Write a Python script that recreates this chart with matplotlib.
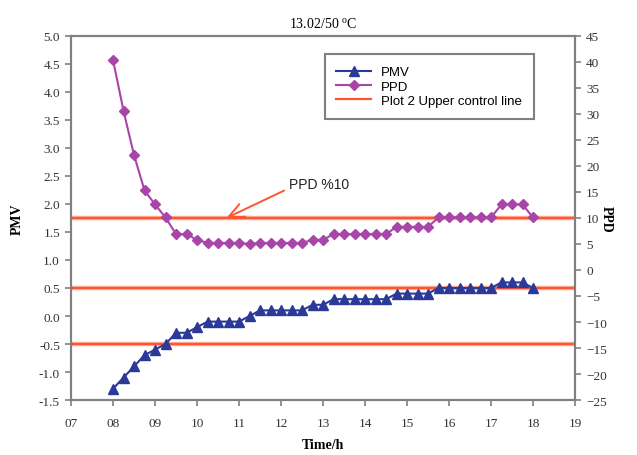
import numpy as np
import matplotlib
matplotlib.use("Agg")
from matplotlib import pyplot as plt

# time of day in hours, one reading every quarter hour
hours = np.arange(8.0, 18.01, 0.25)

pmv = [-1.3, -1.1, -0.9, -0.7, -0.6, -0.5, -0.3, -0.3, -0.2, -0.1,
       -0.1, -0.1, -0.1, 0.0, 0.1, 0.1, 0.1, 0.1, 0.1, 0.2,
       0.2, 0.3, 0.3, 0.3, 0.3, 0.3, 0.3, 0.4, 0.4, 0.4,
       0.4, 0.5, 0.5, 0.5, 0.5, 0.5, 0.5, 0.6, 0.6, 0.6, 0.5]

ppd = [40.4, 30.6, 22.1, 15.3, 12.6, 10.1, 6.9, 6.9, 5.8, 5.2,
       5.2, 5.2, 5.2, 5.0, 5.2, 5.2, 5.2, 5.2, 5.2, 5.8,
       5.8, 6.9, 6.9, 6.9, 6.9, 6.9, 6.9, 8.3, 8.3, 8.3,
       8.3, 10.1, 10.1, 10.1, 10.1, 10.1, 10.1, 12.6, 12.6, 12.6, 10.1]

# control lines on the PMV axis (1.75 on PMV = 10 % on PPD)
control_lines = [1.75, 0.5, -0.5]

x_ticks = list(range(7, 20))
x_labels = ["%02d" % h for h in x_ticks]

serif = "Liberation Serif"
sans = "Liberation Sans"
blue = "#2b3a98"
purple = "#a845a8"
red = "#ff5533"
grey = "#808080"

fig = plt.figure(figsize=(6.37, 4.56), dpi=100)
ax = fig.add_axes([0.1115, 0.1206, 0.7912, 0.7983])
ax2 = ax.twinx()

for i, c in enumerate(control_lines):
    ax.axhline(c, color="#ffb09a", lw=3.2, zorder=1)
    ax.axhline(c, color=red, lw=1.6, zorder=2,
               label="Plot 2 Upper control line" if i == 0 else None)

l1, = ax.plot(hours, pmv, color=blue, marker="^", ms=6.5, lw=1.5, label="PMV", zorder=4)
l2, = ax2.plot(hours, ppd, color=purple, marker="D", ms=5.5, lw=1.5, label="PPD", zorder=4)

ax.set_xlim(7, 19)
ax.set_ylim(-1.5, 5.0)
ax2.set_ylim(-25, 45)
ax.set_xticks(x_ticks)
ax.set_xticklabels(x_labels)
ax.set_yticks(np.arange(-1.5, 5.01, 0.5))
ax.set_yticklabels(["%.1f" % v for v in np.arange(-1.5, 5.01, 0.5)])
ax2.set_yticks(range(-25, 46, 5))

for a in (ax, ax2):
    for s in a.spines.values():
        s.set_color(grey)
        s.set_linewidth(1.5)
    a.tick_params(direction="out", length=4, width=1.2, color=grey,
                  labelsize=9.5, pad=4)
    for lab in a.get_xticklabels() + a.get_yticklabels():
        lab.set_fontfamily(serif)
        lab.set_color("#333333")
ax.tick_params(axis="x", pad=8)

ax.set_title("13.02/50 $^{\\mathregular{o}}$C", fontfamily=serif, fontsize=10, pad=6)
ax.set_ylabel("PMV", fontfamily=serif, fontsize=10, fontweight="bold", labelpad=11)
ax2.set_ylabel("PPD", fontfamily=serif, fontsize=10, fontweight="bold",
               rotation=270, labelpad=4)
fig.text(0.507, 0.008, "Time/h", fontfamily=serif, fontsize=10, fontweight="bold",
         ha="center", va="bottom")

ax.annotate("PPD %10", xy=(10.7, 1.75), xytext=(12.2, 2.36),
            fontfamily=sans, fontsize=10, color="#222222", va="center",
            arrowprops=dict(arrowstyle="->,head_length=1.1,head_width=0.5",
                            color=red, lw=1.4, relpos=(0, 0.2), shrinkA=2, shrinkB=0))

handles = [l1, l2, ax.get_lines()[1]]
leg = ax.legend(handles, [h.get_label() for h in handles],
                loc="upper left", bbox_to_anchor=(0.49, 0.968),
                prop={"family": sans, "size": 9.5}, fancybox=False,
                framealpha=1, edgecolor=grey, borderpad=0.9,
                handlelength=2.6, labelspacing=0.15)
leg.get_frame().set_linewidth(1.5)
leg.set_zorder(10)

fig.savefig("out.png", dpi=100)
